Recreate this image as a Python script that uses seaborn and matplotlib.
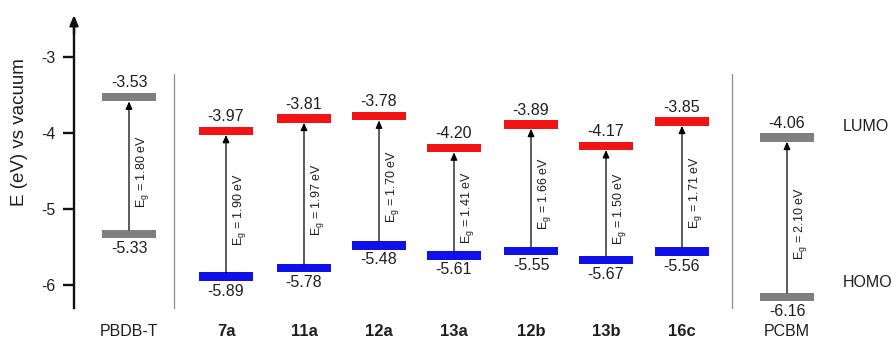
import matplotlib
matplotlib.use("Agg")
import matplotlib.pyplot as plt
import seaborn as sns

# Frontier orbital energies (eV vs vacuum)
materials = ["PBDB-T", "7a", "11a", "12a", "13a", "12b", "13b", "16c", "PCBM"]
lumo = [-3.53, -3.97, -3.81, -3.78, -4.20, -3.89, -4.17, -3.85, -4.06]
homo = [-5.33, -5.89, -5.78, -5.48, -5.61, -5.55, -5.67, -5.56, -6.16]
gaps = [1.80, 1.90, 1.97, 1.70, 1.41, 1.66, 1.50, 1.71, 2.10]
yticks = [-3, -4, -5, -6]

# Layout (horizontal positions of each column, drawing units)
xpos = [129, 226, 304, 379, 454, 531, 606, 682, 787]
compound = [False, True, True, True, True, True, True, True, False]

sns.set_theme(style="white")
plt.rcParams["font.family"] = ["Liberation Sans", "DejaVu Sans"]
plt.rcParams["mathtext.fontset"] = "custom"
plt.rcParams["mathtext.rm"] = "Liberation Sans"

RED, BLUE, GREY = "#f01414", "#1010e8", "#808080"
TXT = "#1e1e1e"
BAR_W, BAR_H = 54, 0.11

fig = plt.figure(figsize=(8.92, 3.49), dpi=100)
ax = fig.add_axes([0, 0, 1, 1])
ax.set_xlim(0, 892)
ax.set_ylim(-6.842, -2.25)

for i, name in enumerate(materials):
    x = xpos[i]
    top_c = RED if compound[i] else GREY
    bot_c = BLUE if compound[i] else GREY
    ax.bar(x, BAR_H, bottom=lumo[i] - BAR_H / 2, width=BAR_W, color=top_c, linewidth=0)
    ax.bar(x, BAR_H, bottom=homo[i] - BAR_H / 2, width=BAR_W, color=bot_c, linewidth=0)
    ax.annotate("", xy=(x, lumo[i] - BAR_H / 2), xytext=(x, homo[i] + BAR_H / 2),
                arrowprops=dict(arrowstyle="-|>,head_length=0.45,head_width=0.2",
                                color="black", lw=0.9, mutation_scale=10,
                                shrinkA=0, shrinkB=0))
    ax.annotate(f"{lumo[i]:.2f}", xy=(x, lumo[i] + BAR_H / 2), xytext=(0, 2),
                textcoords="offset points", ha="center", va="bottom",
                fontsize=11.5, color=TXT)
    ax.annotate(f"{homo[i]:.2f}", xy=(x, homo[i] - BAR_H / 2), xytext=(0, -2),
                textcoords="offset points", ha="center", va="top",
                fontsize=11.5, color=TXT)
    mid = (lumo[i] + homo[i]) / 2 - 0.08
    ax.annotate(r"E$_\mathregular{g}$ = " + f"{gaps[i]:.2f} eV", xy=(x, mid),
                xytext=(3.5, 0), textcoords="offset points", rotation=90,
                ha="left", va="center", fontsize=9, color=TXT)
    if compound[i]:
        ax.text(x, -6.61, name, ha="center", va="center", fontsize=12,
                fontweight="bold", color=TXT)
    else:
        ax.text(x, -6.61, name, ha="center", va="center", fontsize=11.5, color=TXT)

# group separators
for xs in (174, 732):
    ax.plot([xs, xs], [-3.22, -6.30], color="#8c8c8c", lw=0.9)

ax.text(843, -3.92, "LUMO", ha="left", va="center", fontsize=11.5, color=TXT)
ax.text(843, -5.97, "HOMO", ha="left", va="center", fontsize=11.5, color=TXT)

# energy axis with arrow head
for side in ("top", "right", "bottom"):
    ax.spines[side].set_visible(False)
ax.spines["left"].set_position(("data", 74))
ax.spines["left"].set_bounds(-6.30, -2.55)
ax.spines["left"].set_linewidth(1.7)
ax.spines["left"].set_color("#111111")
ax.annotate("", xy=(74, -2.447), xytext=(74, -2.7),
            arrowprops=dict(arrowstyle="-|>,head_length=0.6,head_width=0.25",
                            color="#111111", lw=1.7, mutation_scale=10,
                            shrinkA=0, shrinkB=0))
ax.set_xticks([])
ax.set_yticks(yticks)
ax.set_yticklabels([str(t) for t in yticks])
ax.tick_params(axis="y", direction="out", length=8, width=1.7, color="#111111",
               pad=5, labelsize=11.5, labelcolor=TXT, left=True)
ax.text(20, -3.99, "E (eV) vs vacuum", rotation=90, ha="center", va="center",
        fontsize=13.5, color=TXT)

fig.savefig("out.png", dpi=100)
